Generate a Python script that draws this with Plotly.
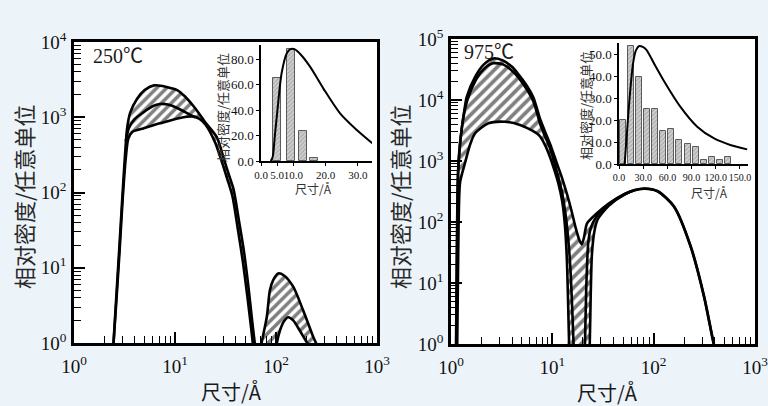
import plotly.graph_objects as go

W, H = 768, 406
def px(x): return x / W
def py(y): return 1 - y / H

SERIF = "Liberation Serif, Noto Sans CJK SC"
CJK = "Noto Sans CJK SC, Liberation Serif"

# ---------------- Left panel (250 C) ----------------
l_upper_x = [2.45, 2.61, 2.8, 3.0, 3.2, 3.35, 3.6, 4.2, 5.0, 6.2, 7.5, 9.0, 10.5, 12.5, 15.2, 17.5, 20, 26, 30, 34, 38, 43, 48, 53, 58, 63, 67,
             72, 81, 87, 94, 105, 120, 148, 186, 234, 253, 262]
l_upper_y = [0.9, 3.7, 17, 80, 316, 700, 1150, 1750, 2300, 2650, 2600, 2450, 2300, 1900, 1410, 1100, 850, 540, 300, 175, 110, 42, 17, 6, 2.0, 0.8, 0.5,
             1.0, 2.2, 5.0, 6.9, 8.4, 7.9, 5.6, 2.7, 1.2, 0.95, 0.8]
l_lower_x = [2.45, 2.63, 2.83, 3.03, 3.25, 3.45, 3.8, 4.86, 7.1, 11.2, 15.2, 17.5, 20, 25, 29, 33, 37, 42, 47, 52, 57, 61, 66,
             96, 102, 110, 120, 132, 148, 170, 195, 215, 235]
l_lower_y = [0.9, 3.7, 17, 80, 280, 520, 640, 710, 830, 980, 1020, 950, 800, 460, 260, 150, 90, 32, 12, 4.2, 1.5, 0.7, 0.5,
             0.5, 1.0, 1.5, 1.95, 2.2, 2.0, 1.5, 1.1, 0.9, 0.6]
l_mid_x = [3.25, 3.5, 4.0, 4.9, 6.0, 7.1, 8.5, 10.4, 12.5, 14.5, 16.0]
l_mid_y = [480, 720, 950, 1170, 1400, 1500, 1480, 1340, 1180, 1060, 1000]

# ---------------- Right panel (975 C) ----------------
r_upper_x = [1.12, 1.135, 1.15, 1.17, 1.22, 1.28, 1.34, 1.43, 1.73, 2.1, 2.6, 3.2, 4.0, 4.5, 5.5, 6.5, 7.6, 8.5, 9.5, 11, 12.5, 14, 15.5, 17,
             18.5, 19.5, 20.5, 22, 27, 36, 51, 65, 81, 110, 159, 232, 315, 380, 400, 420]
r_upper_y = [0.8, 10, 100, 600, 1800, 3500, 6000, 11300, 24000, 38000, 48000, 45000, 35000, 28000, 18000, 11000, 4800, 3000, 1900, 950, 520, 280, 150, 80,
             50, 43, 55, 95, 135, 200, 285, 335, 355, 320, 180, 40, 6, 1.3, 0.9, 0.8]
r_lower_x = [1.15, 1.17, 1.19, 1.23, 1.38, 1.55, 1.73, 2.34, 3.4, 4.8, 6.0, 7.1, 7.6, 8.5, 9.5, 10.5, 11.5, 12.5, 13.3, 13.9, 14.3, 14.6, 15.0,
             22.8, 23.4, 23.9, 24.6, 26, 28, 36, 51, 65, 81, 110, 159, 232, 315, 380, 400, 420]
r_lower_y = [0.8, 10, 100, 450, 950, 1900, 2850, 4150, 4400, 3900, 3300, 2800, 2500, 1800, 1150, 700, 420, 220, 90, 25, 5, 1.2, 0.4,
             0.4, 1.0, 6, 30, 70, 110, 185, 278, 330, 350, 316, 177, 39, 5.8, 1.25, 0.88, 0.78]
r_mid_x = [1.125, 1.14, 1.155, 1.18, 1.24, 1.32, 1.45, 1.75, 2.1, 2.6, 3.3, 4.2, 5.2, 6.5, 7.6, 8.5, 9.5, 11, 12.5, 13.8, 15.0, 15.8, 16.2, 16.6,
           None,
           20.6, 21.0, 21.6, 22.6, 24, 27, 36, 51, 62]
r_mid_y = [0.8, 10, 100, 700, 2200, 5000, 10000, 21000, 32000, 40000, 38000, 28000, 18000, 9500, 4000, 2500, 1600, 700, 300, 100, 20, 3, 1, 0.4,
           None,
           0.4, 1, 8, 45, 80, 120, 195, 282, 325]

# ---------------- Insets ----------------
li_bar_x = [5.1, 9.3, 12.9, 16.4]
li_bar_y = [65, 88, 23.5, 2.6]
li_curve_x = [3.0, 3.6, 4.3, 5.1, 6.4, 8.0, 9.0, 10.5, 12.5, 15.2, 19.3, 24.5, 29.7, 34.5]
li_curve_y = [0, 3, 20, 40, 69, 84.5, 87.6, 87.6, 83, 74, 57, 37.4, 24.3, 13.9]

ri_bar_x = [5, 15, 25, 35, 45, 55, 65, 75, 85, 95, 105, 115, 125, 135]
ri_bar_y = [20, 54, 40, 25, 25, 15, 16, 11, 9, 8, 2, 3, 2, 3]
ri_curve_x = [7, 10, 13.3, 17.5, 21, 25, 30, 34, 45, 55, 76, 97, 117.5, 138, 159]
ri_curve_y = [0, 15, 30.9, 46.2, 52, 54, 53.5, 52.3, 45, 38.5, 26.3, 17.1, 11.8, 8.7, 6.7]

# tick labels
main_tickvals = [1, 10, 100, 1000, 10000, 100000]
main_ticktext = ["10<sup>0</sup>", "10<sup>1</sup>", "10<sup>2</sup>", "10<sup>3</sup>", "10<sup>4</sup>", "10<sup>5</sup>"]
li_xtickvals = [0, 5, 10, 20, 30]
li_xticktext = ["0.0", "5.0", "10.0", "20.0", "30.0"]
li_ytickvals = [0, 20, 40, 60, 80]
li_yticktext = ["0.0", "20.0", "40.0", "60.0", "80.0"]
ri_xtickvals = [0, 30, 60, 90, 120, 150]
ri_xticktext = ["0.0", "30.0", "60.0", "90.0", "120.0", "150.0"]
ri_ytickvals = [0, 10, 20, 30, 40, 50]
ri_yticktext = ["0.0", "10.0", "20.0", "30.0", "40.0", "50.0"]

minor_vals = [k * 10 ** n for n in range(0, 5) for k in range(2, 10)]

fig = go.Figure()
LW = 2.6
spl = dict(shape="spline", smoothing=0.7)

def band(lx, ly, ux, uy, xa, ya, size):
    fig.add_trace(go.Scatter(x=lx, y=ly, mode="lines", xaxis=xa, yaxis=ya,
                             line=dict(color="black", width=LW, **spl), showlegend=False))
    fig.add_trace(go.Scatter(x=ux, y=uy, mode="lines", xaxis=xa, yaxis=ya, fill="tonexty",
                             fillcolor="white",
                             fillpattern=dict(shape="/", fgcolor="black", bgcolor="white", size=size, solidity=0.5),
                             line=dict(color="black", width=LW, **spl), showlegend=False))

band(l_lower_x, l_lower_y, l_upper_x, l_upper_y, "x", "y", 7)
fig.add_trace(go.Scatter(x=l_mid_x, y=l_mid_y, mode="lines", xaxis="x", yaxis="y",
                         line=dict(color="black", width=LW, **spl), showlegend=False))
band(r_lower_x, r_lower_y, r_upper_x, r_upper_y, "x2", "y2", 7.5)
fig.add_trace(go.Scatter(x=r_mid_x, y=r_mid_y, mode="lines", xaxis="x2", yaxis="y2", connectgaps=False,
                         line=dict(color="black", width=LW, **spl), showlegend=False))

barpat = dict(shape="/", fgcolor="#7a7a7a", bgcolor="#d0d0d0", size=3, solidity=0.35)
fig.add_trace(go.Bar(x=li_bar_x, y=li_bar_y, width=2.5, xaxis="x3", yaxis="y3",
                     marker=dict(color="#c4c4c4", pattern=barpat, line=dict(color="#5a5a5a", width=1)), showlegend=False))
fig.add_trace(go.Scatter(x=li_curve_x, y=li_curve_y, mode="lines", xaxis="x3", yaxis="y3",
                         line=dict(color="black", width=2, shape="spline", smoothing=0.8), showlegend=False))
fig.add_trace(go.Bar(x=ri_bar_x, y=ri_bar_y, width=7.5, xaxis="x4", yaxis="y4",
                     marker=dict(color="#c4c4c4", pattern=barpat, line=dict(color="#5a5a5a", width=1)), showlegend=False))
fig.add_trace(go.Scatter(x=ri_curve_x, y=ri_curve_y, mode="lines", xaxis="x4", yaxis="y4",
                         line=dict(color="black", width=2, shape="spline", smoothing=0.8), showlegend=False))

tickfont = dict(family=SERIF, size=19, color="#111")

def main_axis(dom, rng, anchor, is_x):
    d = dict(type="log", range=rng, domain=dom, anchor=anchor, showline=True, linecolor="black",
             linewidth=2.6, mirror=True, showgrid=False, zeroline=False,
             tickmode="array", tickvals=main_tickvals, ticktext=main_ticktext,
             ticks="inside", ticklen=11, tickwidth=1.5, tickcolor="black", tickfont=tickfont,
             ticklabeloverflow="allow",
             minor=dict(tickmode="array", tickvals=minor_vals, ticks="inside", ticklen=7,
                        tickwidth=1.2, tickcolor="black", showgrid=False))
    d["ticklabelstandoff"] = 4 if is_x else 1
    return d

def inset_axis(dom, rng, anchor, vals, text, size):
    return dict(range=rng, domain=dom, anchor=anchor, showline=True, linecolor="black", linewidth=1.5,
                mirror=False, showgrid=False, zeroline=False, tickmode="array", tickvals=vals, ticktext=text,
                ticks="outside", ticklen=3, tickwidth=1, tickcolor="black", tickangle=0,
                tickfont=dict(family=SERIF, size=size, color="#111"), fixedrange=True)

layout = dict(
    width=W, height=H, margin=dict(l=0, r=0, t=0, b=0, autoexpand=False),
    paper_bgcolor="#edf4f9", plot_bgcolor="white", showlegend=False, bargap=0,
    xaxis=main_axis([px(74), px(377)], [0, 3], "y", True),
    yaxis=main_axis([py(343), py(42)], [0, 4], "x", False),
    xaxis2=main_axis([px(451), px(755)], [0, 3], "y2", True),
    yaxis2=main_axis([py(344), py(39)], [0, 5], "x2", False),
    xaxis3=inset_axis([px(261), px(372)], [0, 34.4], "y3", li_xtickvals, li_xticktext, 11),
    yaxis3=inset_axis([py(161), py(45)], [0, 91], "x3", li_ytickvals, li_yticktext, 13),
    xaxis4=inset_axis([px(619), px(748)], [0, 160], "y4", ri_xtickvals, ri_xticktext, 10),
    yaxis4=inset_axis([py(164), py(43)], [0, 55.4], "x4", ri_ytickvals, ri_yticktext, 13),
)
fig.update_layout(**layout)

def ann(text, x, y, size, angle=0, xanchor="center", family=CJK, color="#1a1a1a"):
    fig.add_annotation(text=text, x=px(x), y=py(y), xref="paper", yref="paper", showarrow=False,
                       xanchor=xanchor, yanchor="middle", textangle=angle,
                       font=dict(family=family, size=size, color=color))

ann("250℃", 91, 56, 20, xanchor="left", family=SERIF)
ann("975℃", 462, 52, 20, xanchor="left", family=SERIF)
ann("尺寸/Å", 231, 391, 20)
ann("尺寸/Å", 607, 392, 20)
ann("相对密度/任意单位", 23, 197, 22, angle=-90, color="#2a2a2a")
ann("相对密度/任意单位", 399, 197, 22, angle=-90, color="#2a2a2a")
ann("相对密度/任意单位", 222, 108, 13, angle=-90, color="#333")
ann("相对密度/任意单位", 585, 106, 13, angle=-90, color="#333")
ann("尺寸/Å", 313, 189, 12, color="#333")
ann("尺寸/Å", 709, 192, 12, color="#333")

fig.write_html("out.html", config={"displayModeBar": False},
               post_script="document.body.style.margin='0';document.body.style.padding='0';document.body.style.overflow='hidden';")
